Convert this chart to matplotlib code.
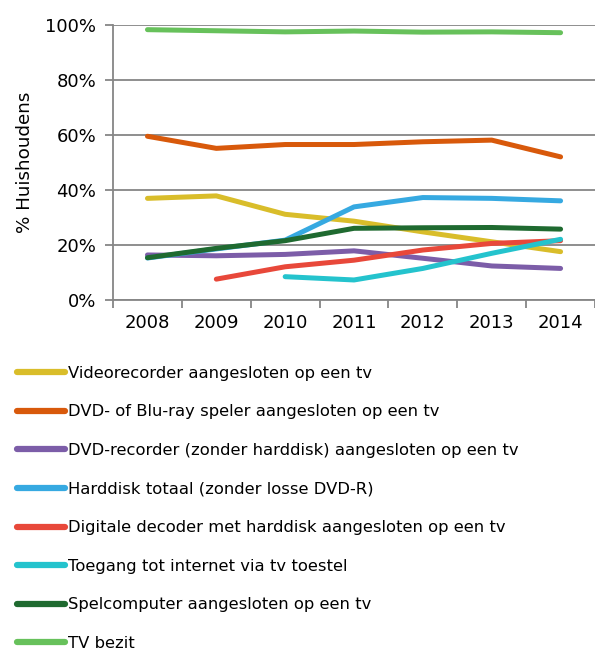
import numpy as np
import matplotlib
matplotlib.use('Agg')
import matplotlib.pyplot as plt

years = ['2008', '2009', '2010', '2011', '2012', '2013', '2014']

labels = ['Videorecorder aangesloten op een tv',
          'DVD- of Blu-ray speler aangesloten op een tv',
          'DVD-recorder (zonder harddisk) aangesloten op een tv',
          'Harddisk totaal (zonder losse DVD-R)',
          'Digitale decoder met harddisk aangesloten op een tv',
          'Toegang tot internet via tv toestel',
          'Spelcomputer aangesloten op een tv',
          'TV bezit']

video    = [37.0, 37.9, 31.2, 28.7, 24.8, 21.2, 17.6]
dvd      = [59.6, 55.2, 56.6, 56.6, 57.6, 58.2, 52.1]
dvdrec   = [16.4, 16.1, 16.6, 17.9, 15.2, 12.4, 11.5]
harddisk = [15.3, 18.6, 21.8, 33.9, 37.3, 37.0, 36.1]
decoder  = [np.nan, 7.6, 12.1, 14.5, 18.2, 20.6, 21.6]
internet = [np.nan, np.nan, 8.5, 7.3, 11.5, 17.0, 22.1]
spel     = [15.4, 18.8, 21.6, 26.1, 26.3, 26.4, 25.8]
tv       = [98.4, 98.0, 97.6, 97.9, 97.5, 97.6, 97.3]

series = [video, dvd, dvdrec, harddisk, decoder, internet, spel, tv]
colors = ['#D9BD2A', '#D8590B', '#7C5DA8', '#36A9E1', '#E8483A',
          '#24C3CD', '#1F6A30', '#67C15B']

fig = plt.figure(figsize=(5.95, 6.48), dpi=100)
ax = fig.add_axes([0.19, 0.537, 0.81, 0.424])

x = np.arange(len(years))
for vals, c, lab in zip(series, colors, labels):
    ax.plot(x, np.array(vals) / 100, color=c, lw=3.6, label=lab,
            solid_capstyle='round', solid_joinstyle='round')

ax.set_xlim(-0.5, 6.5)
ax.set_ylim(0, 1.0)
ax.set_yticks(np.arange(0, 1.01, 0.2))
ax.set_yticklabels(['0%', '20%', '40%', '60%', '80%', '100%'])
ax.yaxis.grid(True, color='#868686', lw=1.3)
ax.set_axisbelow(True)

# category ticks on the boundaries, labels in between (Excel style)
ax.set_xticks(np.arange(-0.5, 7, 1))
ax.set_xticklabels([])
ax.set_xticks(x, minor=True)
ax.set_xticklabels(years, minor=True)
ax.tick_params(axis='x', which='major', length=6, width=1.3, color='#868686')
ax.tick_params(axis='x', which='minor', length=0, pad=10, labelsize=13)
ax.tick_params(axis='y', length=6, width=1.3, color='#868686', labelsize=13, pad=6)

for s in ['top', 'right']:
    ax.spines[s].set_visible(False)
for s in ['left', 'bottom']:
    ax.spines[s].set_color('#868686')
    ax.spines[s].set_linewidth(1.3)

ax.set_ylabel('% Huishoudens', fontsize=13.2, labelpad=8)

leg = fig.legend(loc='upper left', bbox_to_anchor=(0.029, 0.4354), frameon=False,
                 fontsize=11.8, handlelength=2.93, handletextpad=0.18,
                 labelspacing=1.44, borderaxespad=0, borderpad=0)
for h in leg.get_lines():
    h.set_linewidth(4.5)

fig.savefig('out.png', dpi=100)
